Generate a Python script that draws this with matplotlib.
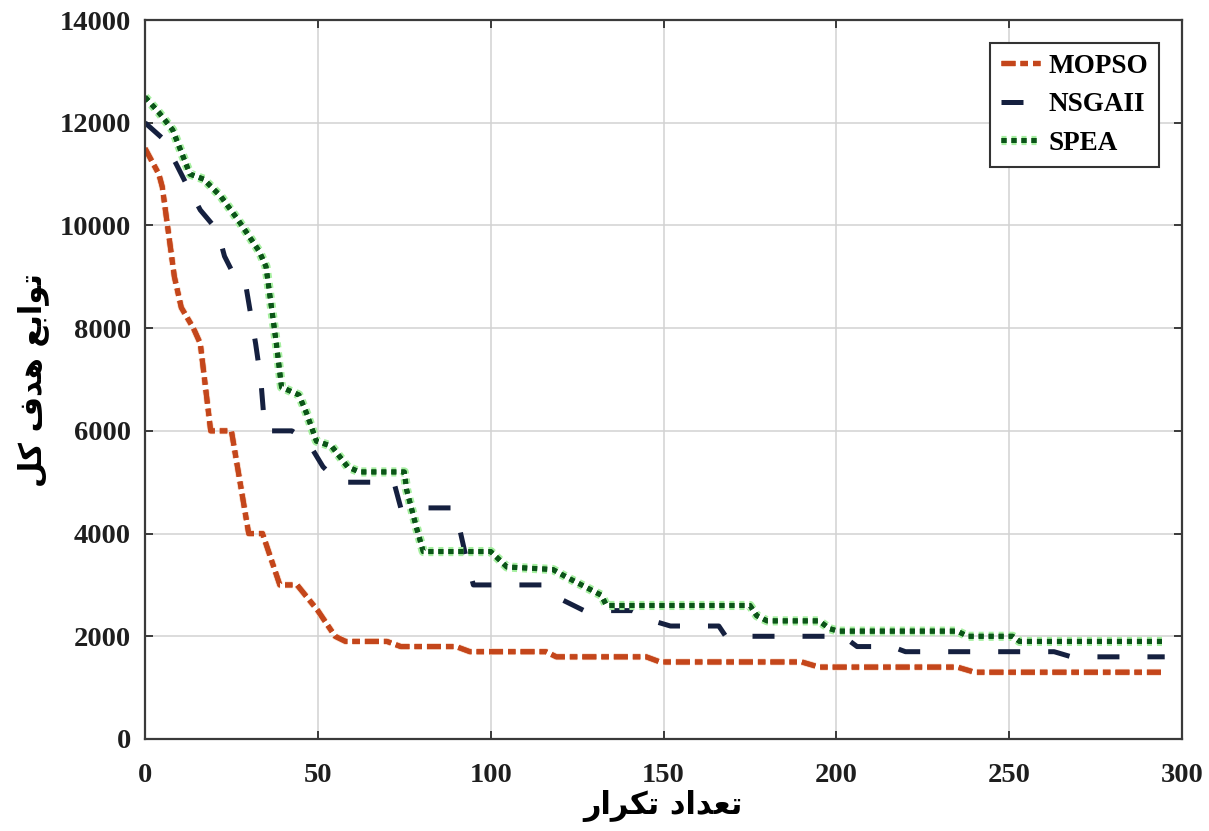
import matplotlib
matplotlib.use("Agg")
import matplotlib.pyplot as plt
import matplotlib.patheffects as pe

# convergence of the total objective over iterations
mopso_x = [0, 4, 5, 6.5, 8.5, 10.5, 14, 16, 19, 25, 30, 34, 39, 44, 50, 55, 58, 70, 74, 90, 94,
           116, 119, 145, 149, 190, 195, 235, 240, 295]
mopso_y = [11500, 11000, 10750, 10000, 9000, 8400, 8000, 7700, 6000, 6000, 4000, 4000, 3000, 3000,
           2500, 2000, 1900, 1900, 1800, 1800, 1700, 1700, 1600, 1600, 1500, 1500, 1400, 1400,
           1300, 1300]

nsga_x = [0, 5, 9, 12, 16, 21, 23, 26, 29, 32, 33.5, 34.7, 42.5, 47, 51.5, 56, 72, 74, 89, 91, 93,
          95, 116, 121, 127, 141, 147, 152, 166, 168, 202, 206, 216, 220, 263, 268, 295]
nsga_y = [12000, 11700, 11200, 10800, 10300, 9900, 9400, 9000, 8900, 7700, 7000, 6000, 6000, 5800,
          5300, 5000, 5000, 4500, 4500, 4100, 3500, 3000, 3000, 2700, 2500, 2500, 2300, 2200,
          2200, 2000, 2000, 1800, 1800, 1700, 1700, 1600, 1600]

spea_x = [0, 4, 8, 13, 17, 22, 27, 33, 35, 36, 38, 39.5, 44.5, 46.7, 49.6, 54, 58.6, 62, 75, 75.7,
          78.6, 80.5, 100, 104.7, 118, 122, 132, 133.5, 175, 177, 180, 195, 198, 200.5, 235, 238,
          251, 253, 295]
spea_y = [12500, 12200, 11860, 11000, 10900, 10560, 10100, 9500, 9200, 8700, 7700, 6850, 6700,
          6350, 5800, 5700, 5300, 5200, 5200, 4850, 4100, 3650, 3650, 3350, 3300, 3150, 2800,
          2600, 2600, 2400, 2300, 2300, 2150, 2100, 2100, 2000, 2000, 1900, 1900]

x_ticks = [0, 50, 100, 150, 200, 250, 300]
y_ticks = [0, 2000, 4000, 6000, 8000, 10000, 12000, 14000]

# Arabic labels, pre-shaped (presentation forms, visual order)
xlabel_txt = "\uFEAD\uFE8D\uFEAE\uFEDC\uFE97 \uFEA9\uFE8D\uFEAA\uFECC\uFE97"            # تعداد تکرار
ylabel_txt = "\uFEDE\uFEDB \uFED1\uFEAA\uFEEB \uFECA\uFE91\uFE8D\uFEEE\uFE97"          # توابع هدف کل

fig = plt.figure(figsize=(12.09, 8.31), dpi=100)
ax = fig.add_axes([145 / 1209, 1 - 739 / 831, (1182 - 145) / 1209, (739 - 20) / 831])

lw = 3.6
ax.plot(mopso_x, mopso_y, color="#C4461B", lw=lw, dashes=(2.8, 1.0, 1.5, 1.0),
        solid_capstyle="butt", dash_capstyle="butt", label="MOPSO",
        path_effects=[pe.withStroke(linewidth=lw + 1.2, foreground="#F6D2BE"), pe.Normal()])
ax.plot(nsga_x, nsga_y, color="#15203F", lw=lw, dashes=(4.4, 5.6),
        dash_capstyle="butt", label="NSGAII")
ax.plot(spea_x, spea_y, color="#0B5518", lw=lw, dashes=(1.0, 1.0),
        dash_capstyle="butt", label="SPEA",
        path_effects=[pe.withStroke(linewidth=lw + 3, foreground="#A6EFA0"), pe.Normal()])

ax.set_xlim(0, 300)
ax.set_ylim(0, 14000)
ax.set_xticks(x_ticks)
ax.set_yticks(y_ticks)
ax.grid(True, color="#D2D2D2", lw=1.1)
ax.set_axisbelow(True)

for s in ax.spines.values():
    s.set_linewidth(1.6)
    s.set_color("#3a3a3a")

ax.tick_params(direction="in", length=6, width=1.4, top=True, right=True, color="#3a3a3a")
ax.tick_params(axis="x", pad=17)
ax.tick_params(axis="y", pad=10)
for lab in ax.get_xticklabels() + ax.get_yticklabels():
    lab.set_fontfamily("Liberation Serif")
    lab.set_fontweight("bold")
    lab.set_fontsize(20.5)
    lab.set_color("#1e1e1e")

ax.set_xlabel(xlabel_txt, fontfamily="DejaVu Sans", fontweight="bold", fontsize=22, labelpad=2)
ax.set_ylabel(ylabel_txt, fontfamily="DejaVu Sans", fontweight="bold", fontsize=22, labelpad=8)

leg = ax.legend(loc="upper right", prop={"family": "Liberation Serif", "weight": "bold", "size": 19.5},
                frameon=True, fancybox=False, framealpha=1, edgecolor="#333333",
                handlelength=1.45, handletextpad=0.3, labelspacing=0.5, borderpad=0.4,
                borderaxespad=0.85)
leg.get_frame().set_linewidth(1.5)

fig.savefig("out.png", dpi=100, facecolor="white")
